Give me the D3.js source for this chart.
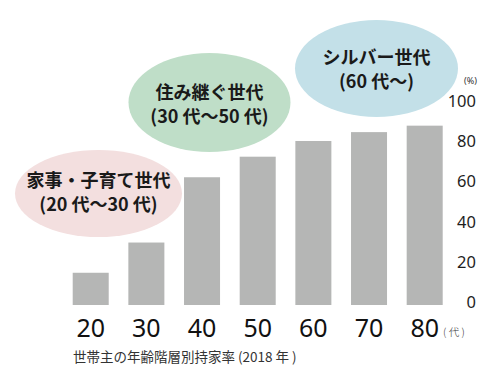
<!DOCTYPE html>
<html>
<head>
<meta charset="utf-8">
<script src="https://cdn.jsdelivr.net/npm/d3@7"></script>
<style>
html,body{margin:0;padding:0;background:#fff;}
svg{display:block;}
</style>
</head>
<body>
<svg id="chart" width="488" height="379"></svg>
<script>
// ---- data ----
const categories = ["20", "30", "40", "50", "60", "70", "80"];
const values = [16, 31, 63.4, 73.6, 81.4, 85.8, 89];
const yTicks = [0, 20, 40, 60, 80, 100];
const groupLine1 = ["家事・子育て世代", "住み継ぐ世代", "シルバー世代"];
const groupLine2 = ["(20 代〜30 代)", "(30 代〜50 代)", "(60 代〜)"];
const caption = "世帯主の年齢階層別持家率 (2018 年 )";
const xUnit = "( 代 )";
const yUnit = "(%)";

// ---- layout ----
const svg = d3.select("#chart");
const FONT = "'Noto Sans CJK JP', 'Noto Sans', sans-serif";

const x = d3.scaleBand().domain(categories).range([72.7, 442.7]).paddingInner(0.353).paddingOuter(0);
const y = d3.scaleLinear().domain([0, 100]).range([305, 103.5]);

// bubbles (annotation layout)
const bubbles = [
  {cx: 98.5, cy: 193.5, rx: 83.5, ry: 43.5, fill: "#f3dfdf", t1: 179, t2: 202.5},
  {cx: 209.5, cy: 102.5, rx: 81, ry: 49.5, fill: "#bfdec8", t1: 91, t2: 114.5},
  {cx: 376.5, cy: 68.5, rx: 81.5, ry: 48.5, fill: "#c3e0e8", t1: 56, t2: 79.5}
];

const bg = svg.append("g");
bubbles.forEach((b) => {
  bg.append("ellipse").attr("cx", b.cx).attr("cy", b.cy).attr("rx", b.rx).attr("ry", b.ry).attr("fill", b.fill);
});

// bars
svg.append("g").selectAll("rect").data(values).join("rect")
  .attr("x", (d, i) => x(categories[i]))
  .attr("width", x.bandwidth())
  .attr("y", d => y(d))
  .attr("height", d => y(0) - y(d))
  .attr("fill", "#b5b6b5");

// bubble text
const tg = svg.append("g").attr("font-family", FONT).attr("font-weight", 700).attr("fill", "#1a1a1a")
  .attr("text-anchor", "middle").attr("font-size", 18);
bubbles.forEach((b, i) => {
  tg.append("text").attr("x", b.cx).attr("y", b.t1).attr("dominant-baseline", "central").text(groupLine1[i]);
  tg.append("text").attr("x", b.cx).attr("y", b.t2).attr("dominant-baseline", "central").text(groupLine2[i]);
});

// y axis (right side, labels only)
const yAxis = d3.axisRight(y).tickValues(yTicks).tickSize(0).tickPadding(0);
const yg = svg.append("g").attr("transform", "translate(476,-2.5)").call(yAxis);
yg.select(".domain").remove();
yg.selectAll("text").attr("text-anchor", "end").attr("x", 0)
  .attr("font-family", "'Noto Sans', sans-serif").attr("font-weight", 400)
  .attr("font-size", 16.5).attr("fill", "#1e1e1e");

svg.append("text").attr("x", 477).attr("y", 80).attr("dominant-baseline", "central")
  .attr("text-anchor", "end").attr("font-family", "'Noto Sans', sans-serif")
  .attr("font-size", 9).attr("fill", "#333").text(yUnit);

// x axis (labels only)
const xAxis = d3.axisBottom(x).tickSize(0).tickPadding(0);
const xg = svg.append("g").attr("transform", "translate(0,327)").call(xAxis);
xg.select(".domain").remove();
xg.selectAll("text").attr("dy", null).attr("y", 0).attr("dominant-baseline", "central")
  .attr("font-family", "'Noto Sans', sans-serif").attr("font-size", 25).attr("fill", "#111");

svg.append("text").attr("x", 443).attr("y", 331).attr("dominant-baseline", "central")
  .attr("font-family", FONT).attr("font-weight", 300).attr("font-size", 10.5).attr("fill", "#333")
  .text(xUnit);

// caption
svg.append("text").attr("x", 73).attr("y", 356).attr("dominant-baseline", "central")
  .attr("font-family", FONT).attr("font-size", 13.5).attr("fill", "#333").text(caption);
</script>
</body>
</html>
